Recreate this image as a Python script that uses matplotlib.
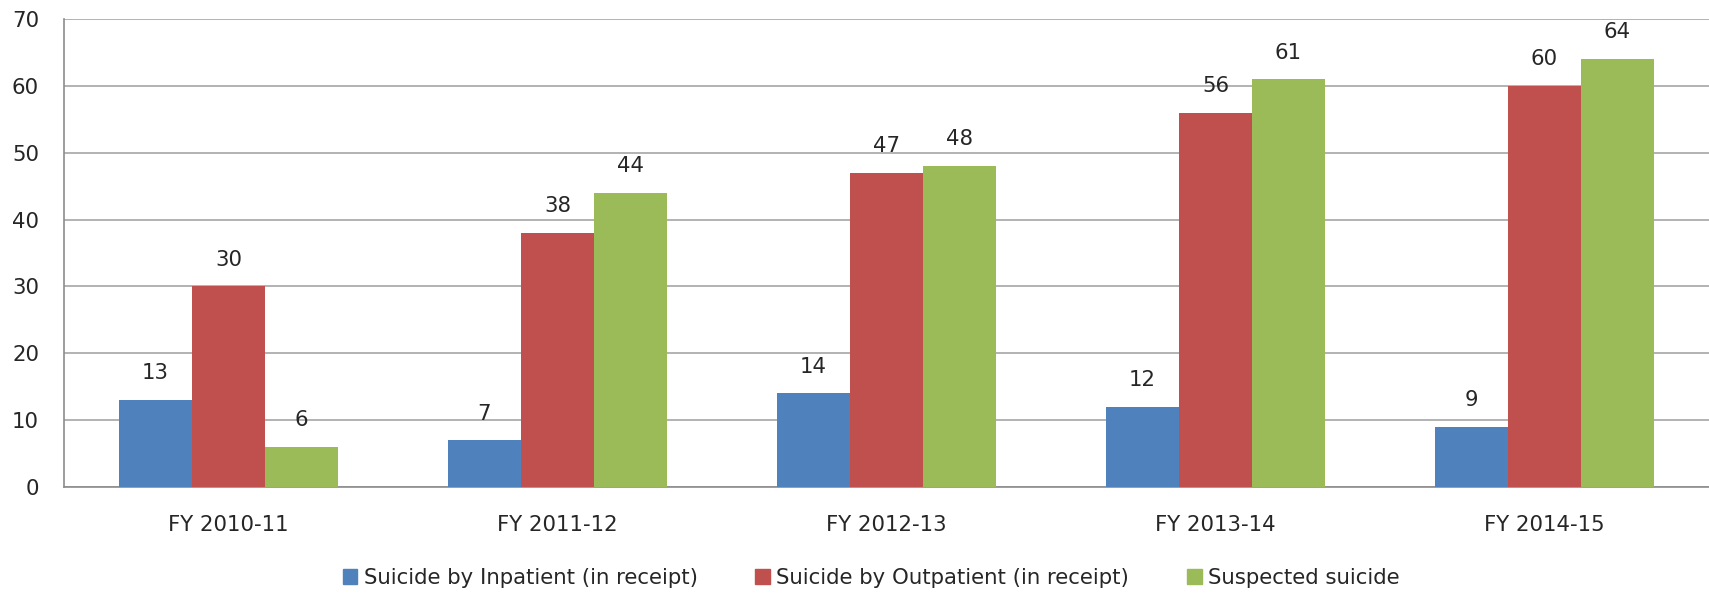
import numpy as np
import matplotlib
matplotlib.use("Agg")
from matplotlib import pyplot as plt
from matplotlib.patches import Patch

plt.rcParams["font.family"] = ["DejaVu Sans"]

years = ["FY 2010-11", "FY 2011-12", "FY 2012-13", "FY 2013-14", "FY 2014-15"]
inpatient = [13, 7, 14, 12, 9]
outpatient = [30, 38, 47, 56, 60]
suspected = [6, 44, 48, 61, 64]
series_names = ["Suicide by Inpatient (in receipt)", "Suicide by Outpatient (in receipt)", "Suspected suicide"]
colors = ["#4F81BD", "#C0504D", "#9BBB59"]

fig = plt.figure(figsize=(17.09, 5.94), dpi=100)
ax = fig.add_axes([64 / 1709, 1 - 487 / 594, 1 - 64 / 1709, (487 - 19) / 594])

x = np.arange(len(years))
w = 0.222
text_col = "#262626"
fs = 15.3
for k, (vals, col) in enumerate(zip([inpatient, outpatient, suspected], colors)):
    bars = ax.bar(x + (k - 1) * w, vals, width=w, color=col, zorder=3)
    ax.bar_label(bars, padding=12, fontsize=fs, color=text_col)

ax.set_xlim(-0.5, len(years) - 0.5)
ax.set_ylim(0, 70)
ax.set_yticks(range(0, 71, 10))
ax.set_xticks(x)
ax.set_xticklabels(years)
ax.tick_params(axis="both", length=0, labelsize=fs, labelcolor=text_col)
ax.tick_params(axis="x", pad=20)
ax.tick_params(axis="y", pad=18)
ax.grid(axis="y", color="#a6a6a6", linewidth=1.2, zorder=0)
for side in ["top", "right"]:
    ax.spines[side].set_visible(False)
for side in ["left", "bottom"]:
    ax.spines[side].set_color("#8c8c8c")
    ax.spines[side].set_linewidth(1.2)

handles = [Patch(color=c) for c in colors]
fig.legend(handles, series_names, loc="center", bbox_to_anchor=(871 / 1709, 1 - 578 / 594),
           ncol=3, frameon=False, fontsize=fs, handlelength=0.7, handleheight=0.7,
           handletextpad=0.3, columnspacing=2.7, labelcolor=text_col)

fig.savefig("out.png", dpi=100)
